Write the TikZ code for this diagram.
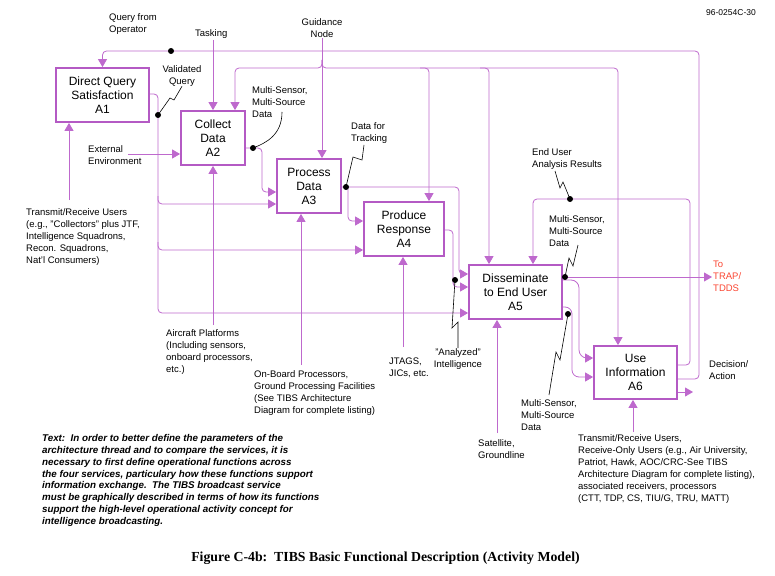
\documentclass[tikz,border=0pt]{standalone}
\usepackage{fontspec}
\setmainfont{Liberation Sans}
\newfontfamily\capfont{Liberation Serif}
\usetikzlibrary{arrows.meta}
\definecolor{boxpurple}{RGB}{180,90,196}
\definecolor{linepurple}{RGB}{190,105,205}
\definecolor{trapred}{RGB}{250,70,50}

\begin{document}
\begin{tikzpicture}[x=1pt,y=1pt,
		func/.style={draw=boxpurple,line width=1.8pt,fill=white,minimum height=54pt,align=center,inner sep=0pt,font=\fontsize{12}{14}\selectfont},
		flow/.style={draw=linepurple,line width=0.8pt,rounded corners=4pt,-{Triangle[length=8pt,width=9pt]}},
		note/.style={anchor=north west,align=left,inner sep=0pt,font=\fontsize{9.5}{12}\selectfont},
		squig/.style={draw=black,line width=0.6pt},
		junction/.style={circle,fill=black,inner sep=0pt,minimum size=6pt}]
		\useasboundingbox (0,0) rectangle (775,-575);
		% activity boxes
		\node[func,minimum width=93pt] (a1) at (102.5,-95) {Direct Query\\Satisfaction\\A1};
		\node[func,minimum width=64pt] (a2) at (213,-138) {Collect\\Data\\A2};
		\node[func,minimum width=64pt] (a3) at (309,-186) {Process\\Data\\A3};
		\node[func,minimum width=80pt] (a4) at (404,-229) {Produce\\Response\\A4};
		\node[func,minimum width=93pt] (a5) at (515.5,-292) {Disseminate\\to End User\\A5};
		\node[func,minimum width=83pt,minimum height=53pt] (a6) at (635.5,-372.5) {Use\\Information\\A6};
		% labels
		\node[note] (lqo) at (109,-13) {Query from\\Operator};
		\node[note] (ltask) at (195,-29) {Tasking};
		\node[note,align=center,anchor=north] (lguide) at (322,-18) {Guidance\\Node};
		\node[note,align=center,anchor=north] (lvq) at (182,-65) {Validated\\Query};
		\node[note] (lms1) at (252,-86) {Multi-Sensor,\\Multi-Source\\Data};
		\node[note] (lext) at (88,-145) {External\\Environment};
		\node[note] (ltrack) at (351,-122) {Data for\\Tracking};
		\node[note] (ltr1) at (26,-208) {Transmit/Receive Users\\(e.g., "Collectors" plus JTF,\\Intelligence Squadrons,\\Recon. Squadrons,\\Nat'l Consumers)};
		\node[note] (lair) at (166,-329) {Aircraft Platforms\\(Including sensors,\\onboard processors,\\etc.)};
		\node[note] (lobp) at (254,-370) {On-Board Processors,\\Ground Processing Facilities\\(See TIBS Architecture\\Diagram for complete listing)};
		\node[note] (ljt) at (389,-358) {JTAGS,\\JICs, etc.};
		\node[note,align=center,anchor=north] (lai) at (458,-348) {"Analyzed"\\Intelligence};
		\node[note] (lsat) at (478,-439) {Satellite,\\Groundline};
		\node[note] (lms3) at (521,-399) {Multi-Sensor,\\Multi-Source\\Data};
		\node[note] (lms2) at (549,-215) {Multi-Sensor,\\Multi-Source\\Data};
		\node[note] (leu) at (532,-148) {End User\\Analysis Results};
		\node[note] (ldec) at (709,-360) {Decision/\\Action};
		\node[note,text=trapred] (ltrap) at (713,-261) {To\\TRAP/\\TDDS};
		\node[note] (ltr6) at (578,-434) {Transmit/Receive Users,\\Receive-Only Users (e.g., Air University,\\Patriot, Hawk, AOC/CRC-See TIBS\\Architecture Diagram for complete listing),\\associated receivers, processors\\(CTT, TDP, CS, TIU/G, TRU, MATT)};
		\node[note,font=\fontsize{8.5}{10}\selectfont] (lid) at (706,-9) {96-0254C-30};
		\node[note,font=\fontsize{9.8}{11.9}\selectfont\bfseries\itshape] (ltext) at (42,-434) {Text:\ \ In order to better define the parameters of the\\architecture thread and to compare the services, it is\\necessary to first define operational functions across\\the four services, particulary how these functions support\\information exchange.\ \ The TIBS broadcast service\\must be graphically described in terms of how its functions\\support the high-level operational activity concept for\\intelligence broadcasting.};
		\node[font=\capfont\bfseries\fontsize{13.8}{15}\selectfont,inner sep=0pt,anchor=base] (cap) at (385.5,-561) {Figure C-4b:\ \ TIBS Basic Functional Description (Activity Model)};
		% free ends
		\coordinate (task) at (213,-40);
		\coordinate (guide) at (322,-38);
		\coordinate (gsplit) at (322,-60);
		\coordinate (ext) at (128,-154);
		\coordinate (tr1) at (69,-200);
		\coordinate (air) at (213,-325);
		\coordinate (obp) at (301,-365);
		\coordinate (jt) at (403,-347);
		\coordinate (sat) at (497,-433);
		\coordinate (tr6) at (633,-432);
		\coordinate (trap) at (712,-277);
		\coordinate (dec) at (693,-392);
		% controls
		\draw[flow] (a6.east |- 0,-379) -| (699,-51) -| (a1.north);
		\draw[flow] (a6.east |- 0,-365) -| (690,-199) -| (a5.north -| 533,0);
		\draw[flow] (task) -- (a2.north);
		\draw[flow] (guide) -- (a3.north -| 322,0);
		\draw[flow] (gsplit) |- (235,-68) -- (a2.north -| 235,0);
		\draw[flow] (gsplit) |- (618,-68) -- (a6.north -| 618,0);
		\draw[flow] (420,-68) -| (a4.north -| 429,0);
		\draw[flow] (480,-68) -| (a5.north -| 489,0);
		% inputs and outputs
		\draw[flow] (a1.east |- 0,-94) -| (158,-313) -- (a5.west |- 0,-313);
		\draw[flow] (158,-196) |- (a3.west |- 0,-204);
		\draw[flow] (158,-242) |- (a4.west |- 0,-250);
		\draw[flow] (ext) -- (a2.west |- 0,-154);
		\draw[flow] (a2.east |- 0,-148) -| (262,-192) -- (a3.west |- 0,-192);
		\draw[flow] (a3.east |- 0,-187) -| (459,-274) -- (a5.west |- 0,-274);
		\draw[flow] (348,-187) |- (a4.west |- 0,-221);
		\draw[flow] (a4.east |- 0,-230) -| (453,-287) -- (a5.west |- 0,-287);
		\draw[flow] (a5.east |- 0,-277) -- (trap);
		\draw[flow,rounded corners=8pt] (a5.east |- 0,-280) -| (579,-358) -- (a6.west |- 0,-358);
		\draw[flow,rounded corners=7pt] (a5.east |- 0,-307) -| (572,-377) -- (a6.west |- 0,-377);
		\draw[flow] (a6.east |- 0,-392) -- (dec);
		% mechanisms
		\draw[flow] (tr1) -- (a1.south -| 69,0);
		\draw[flow] (air) -- (a2.south);
		\draw[flow] (obp) -- (a3.south -| 301,0);
		\draw[flow] (jt) -- (a4.south -| 403,0);
		\draw[flow] (sat) -- (a5.south -| 497,0);
		\draw[flow] (tr6) -- (a6.south -| 633,0);
		% junctions and squiggles
		\node[junction] (j1) at (171,-51) {};
		\node[junction] (j2) at (158,-115) {};
		\node[junction] (j3) at (253,-148) {};
		\node[junction] (j4) at (346,-187) {};
		\node[junction] (j5) at (455,-280) {};
		\node[junction] (j6) at (570,-199) {};
		\node[junction] (j7) at (565,-277) {};
		\node[junction] (j8) at (568,-314) {};
		\draw[squig] (lvq.south) -- (174,-100) -- (170,-98) -- (j2.center);
		\draw[squig] (282,-112) .. controls (282,-135) and (266,-143) .. (j3.center);
		\draw[squig] (364,-145) -- (362,-160) -- (353,-157) -- (j4.center);
		\draw[squig] (j5.center) -- (452,-328) -- (458,-322) -- (lai.north);
		\draw[squig] (555,-171) -- (560,-188) -- (563,-182) -- (j6.center);
		\draw[squig] (578,-245) -- (573,-266) -- (569,-258) -- (j7.center);
		\draw[squig] (549,-395) -- (556,-352) -- (560,-360) -- (j8.center);
	\end{tikzpicture}
\end{document}
